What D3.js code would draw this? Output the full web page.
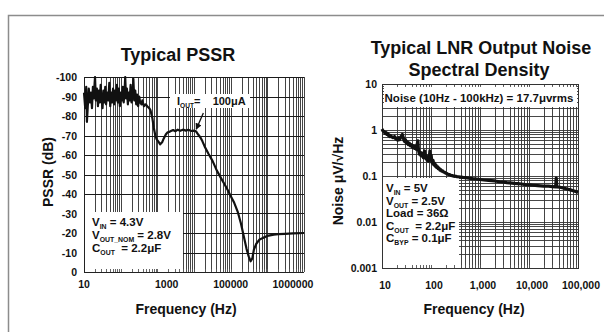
<!DOCTYPE html>
<html><head><meta charset="utf-8">
<script src="https://cdn.jsdelivr.net/npm/d3@7"></script>
<style>
html,body{margin:0;padding:0;background:#fff;}
svg{display:block;font-family:"Liberation Sans",Arial,sans-serif;font-weight:bold;}
</style></head><body>
<svg id="c" width="604" height="332"></svg>
<script>
// ---------- DATA ----------
const pssrFreq = [10,10.8,11.5,12,12.6,13.5,14.5,15.5,16.5,17.5,18.5,19.5,20,21,22.5,24,25.5,27,28.5,30,32,34,36,38,40,43,46,49,52,55,58,62,66,70,74,79,84,89,95,101,107,114,121,128,133,140,148,157,166,176,187,198,210,222,235,250,265,280,300,320,340,370,390,430,480,530,600,650,730,800,880,960,1060,1200,1350,1500,1700,1870,2200,2700,3100,3600,4200,5000,6000,7000,8500,10000,11500,13000,15000,17000,20000,25000,32000,42000,55000,68000,83000,100000,125000,155000,190000,230000,270000,310000,350000,390000,430000,500000,600000,760000,1000000,1500000,2000000,3000000,5000000,10000000];
const pssrDb = [-92,-84,-95,-77,-84,-94,-87,-92,-84,-95,-89,-97,-100,-88,-94,-85,-93,-87,-96,-89,-84,-93,-87,-95,-86,-92,-88,-97,-85,-92,-87,-94,-86,-93,-88,-96,-87,-94,-85,-92,-88,-95,-87,-93,-100,-89,-94,-86,-92,-88,-96,-87,-90,-99,-88,-93,-86,-91,-85,-90,-87,-86,-88,-85,-86,-85,-84,-83,-79,-74,-70,-68,-67,-65.5,-66.5,-68.5,-70.5,-71.5,-72,-72.8,-72.2,-73,-72.4,-73,-72.5,-73,-72.3,-72.5,-72,-70.5,-69,-67,-64,-60.5,-57,-52,-48,-45,-42,-39,-35.5,-31,-25,-18,-12,-8,-5.5,-7,-11.5,-14.5,-16.5,-17.5,-18.5,-19.2,-19.4,-19.6,-19.8,-20];

const noiseFreq = [10,10.5,11,11.5,12,12.5,13,13.5,14,14.5,15,16,17,18,19,20,21,22,23,24,25,26,27,28,29,30,31.5,33,34.5,36,38,40,42,44,46,48,50,52,54,55,56,58,60,62,64,66,68,70,72,74,76,78,80,83,86,89,92,95,98,101,104,107,110,114,118,122,126,130,135,140,146,152,158,165,172,180,190,200,212,225,240,255,270,290,300,340,400,450,500,600,700,850,1000,1200,1500,2000,2500,3000,3500,4000,5000,6000,7000,8500,10000,12000,15000,20000,25000,30000,35000,36000,37000,43000,50000,60000,70000,80000,90000,100000];
const noiseDensity = [1.05,0.95,0.92,0.85,0.88,0.8,0.84,0.76,0.78,0.72,0.75,0.7,0.68,0.72,0.64,0.66,0.6,0.68,0.62,0.7,0.74,0.8,0.7,0.6,0.56,0.62,0.52,0.55,0.48,0.52,0.45,0.48,0.42,0.45,0.4,0.43,0.38,0.48,0.58,0.42,0.35,0.3,0.33,0.28,0.32,0.27,0.3,0.25,0.3,0.35,0.26,0.24,0.28,0.22,0.25,0.21,0.24,0.35,0.22,0.28,0.2,0.19,0.22,0.175,0.19,0.165,0.175,0.155,0.16,0.145,0.148,0.135,0.138,0.128,0.13,0.122,0.12,0.115,0.113,0.108,0.107,0.103,0.102,0.099,0.1,0.097,0.095,0.093,0.092,0.09,0.088,0.086,0.084,0.082,0.08,0.078,0.075,0.074,0.072,0.071,0.069,0.068,0.067,0.065,0.064,0.063,0.062,0.06,0.06,0.059,0.058,0.09,0.058,0.057,0.055,0.052,0.05,0.048,0.046,0.044];

const pssrYTicks = [-100,-90,-80,-70,-60,-50,-40,-30,-20,-10,0];
const pssrXLabels = ["10","1000","100000","1000000"];
const pssrXLabelFreq = [10,1800,100000,5000000];
const noiseXTicks = [10,100,1000,10000,100000];
const noiseXLabels = ["10","100","1,000","10,000","100,000"];
const noiseYTicks = [10,1,0.1,0.01,0.001];
const noiseYLabels = ["10","1","0.1","0.01","0.001"];

// ---------- DRAW ----------
const NB = "\u00a0";
const svg = d3.select("#c");
svg.append("rect").attr("width",604).attr("height",332).attr("fill","#fff");
svg.append("rect").attr("x",8.5).attr("y",15.5).attr("width",700).attr("height",400)
  .attr("fill","none").attr("stroke","#8c8c8c").attr("stroke-width",1.5);

function richText(g, x, y, parts, size, anchor) {
  const t = g.append("text").attr("x",x).attr("y",y).attr("font-size",size).attr("fill","#111")
    .attr("text-anchor",anchor||"start");
  let sub=false;
  parts.forEach(p=>{
    const isSub = p.startsWith("_");
    const s = t.append("tspan").text(isSub?p.slice(1):p);
    if (isSub){ s.attr("font-size", size*0.6).attr("dy", 2.5); sub=true; }
    else if (sub){ s.attr("dy",-2.5); sub=false; }
  });
  return t;
}

// ===== Left chart: PSSR =====
const L = {x0:84, x1:304, y0:77, y1:272};
const xL = d3.scaleLog().domain([10,1e7]).range([L.x0,L.x1]);
const yL = d3.scaleLinear().domain([-100,0]).range([L.y0,L.y1]);
const gL = svg.append("g");

gL.selectAll("line.vg").data(xL.ticks()).join("line").attr("class","vg")
  .attr("x1",d=>Math.round(xL(d))+0.5).attr("x2",d=>Math.round(xL(d))+0.5)
  .attr("y1",L.y0).attr("y2",L.y1).attr("stroke","#444").attr("stroke-width",1);
gL.selectAll("line.hg").data(pssrYTicks).join("line").attr("class","hg")
  .attr("x1",L.x0).attr("x2",L.x1)
  .attr("y1",d=>Math.round(yL(d))+0.5).attr("y2",d=>Math.round(yL(d))+0.5)
  .attr("stroke","#1a1a1a").attr("stroke-width",1);

// legend box
gL.append("rect").attr("x",L.x0+1).attr("y",212).attr("width",98).attr("height",L.y1-212)
  .attr("fill","#fff");
// bottom ticks
gL.selectAll("line.bt").data(xL.ticks()).join("line").attr("class","bt")
  .attr("x1",d=>Math.round(xL(d))+0.5).attr("x2",d=>Math.round(xL(d))+0.5)
  .attr("y1",L.y1).attr("y2",L.y1-3).attr("stroke","#555").attr("stroke-width",0.9);
gL.append("line").attr("x1",L.x0+0.5).attr("x2",L.x0+0.5).attr("y1",L.y0).attr("y2",L.y1)
  .attr("stroke","#222");
gL.append("line").attr("x1",L.x0).attr("x2",L.x1).attr("y1",L.y1+0.5).attr("y2",L.y1+0.5)
  .attr("stroke","#222");

[[["V","_IN"," = 4.3V"],226],[["V","_OUT_NOM"," = 2.8V"],239],[["C","_OUT",NB+NB+"= 2.2μF"],252]]
  .forEach(([p,y])=>richText(gL,92,y,p,11.5));

// IOUT annotation
gL.append("rect").attr("x",170).attr("y",94).attr("width",80).attr("height",14).attr("fill","#fff");
richText(gL,177,105,["I","_OUT","="+NB+NB+NB+NB+"100μA"],11);
svg.append("defs").append("marker").attr("id","ah").attr("viewBox","0 0 10 10")
  .attr("refX",9).attr("refY",5).attr("markerWidth",5).attr("markerHeight",5).attr("orient","auto")
  .append("path").attr("d","M0,0L10,5L0,10z").attr("fill","#111");
gL.append("line").attr("x1",xL(18000)).attr("y1",yL(-81.5)).attr("x2",xL(11500)).attr("y2",yL(-73.2))
  .attr("stroke","#111").attr("stroke-width",1.3).attr("marker-end","url(#ah)");

// curve
const pssrData = pssrFreq.map((f,i)=>({f, v:pssrDb[i]}));
gL.append("path").datum(pssrData)
  .attr("d", d3.line().x(d=>xL(d.f)).y(d=>yL(d.v)))
  .attr("fill","none").attr("stroke","#111").attr("stroke-width",2.2).attr("stroke-linejoin","round");

// ticks labels
gL.selectAll("text.yl").data(pssrYTicks).join("text").attr("class","yl")
  .attr("x",L.x0-7).attr("y",d=>yL(d)+4).attr("text-anchor","end").attr("font-size",10.5)
  .attr("fill","#111").text(d=>d);
gL.selectAll("text.xl").data(pssrXLabels).join("text").attr("class","xl")
  .attr("x",(d,i)=>xL(pssrXLabelFreq[i])).attr("y",288).attr("text-anchor","middle")
  .attr("font-size",10.5).attr("fill","#111").text(d=>d);

svg.append("text").attr("x",178).attr("y",61).attr("text-anchor","middle").attr("font-size",18)
  .attr("fill","#111").text("Typical PSSR");
svg.append("text").attr("x",186).attr("y",314).attr("text-anchor","middle").attr("font-size",14)
  .attr("fill","#111").text("Frequency (Hz)");
svg.append("text").attr("transform","translate(53,172) rotate(-90)").attr("text-anchor","middle")
  .attr("font-size",14).attr("fill","#111").text("PSSR (dB)");

// ===== Right chart: Noise =====
const R = {x0:382, x1:578, y0:84, y1:268};
const xR = d3.scaleLog().domain([10,1e5]).range([R.x0,R.x1]);
const yR = d3.scaleLog().domain([0.001,10]).range([R.y1,R.y0]);
const gR = svg.append("g");

gR.selectAll("line.vg").data(xR.ticks()).join("line").attr("class","vg")
  .attr("x1",d=>Math.round(xR(d))+0.5).attr("x2",d=>Math.round(xR(d))+0.5)
  .attr("y1",R.y0).attr("y2",R.y1).attr("stroke","#444").attr("stroke-width",1);
gR.selectAll("line.hg").data(yR.ticks()).join("line").attr("class","hg")
  .attr("x1",R.x0).attr("x2",R.x1)
  .attr("y1",d=>Math.round(yR(d))+0.5).attr("y2",d=>Math.round(yR(d))+0.5)
  .attr("stroke","#333").attr("stroke-width",0.9);

// boxes
gR.append("rect").attr("x",R.x0+2).attr("y",R.y0+2).attr("width",R.x1-R.x0-3).attr("height",21).attr("fill","#fff");
gR.append("rect").attr("x",R.x0+1).attr("y",yR(0.1)+2).attr("width",76).attr("height",R.y1-yR(0.1)-2).attr("fill","#fff");
gR.selectAll("line.bt").data(xR.ticks()).join("line").attr("class","bt")
  .attr("x1",d=>Math.round(xR(d))+0.5).attr("x2",d=>Math.round(xR(d))+0.5)
  .attr("y1",R.y1).attr("y2",R.y1-3).attr("stroke","#555").attr("stroke-width",0.9);
gR.selectAll("line.tt").data(xR.ticks()).join("line").attr("class","tt")
  .attr("x1",d=>Math.round(xR(d))+0.5).attr("x2",d=>Math.round(xR(d))+0.5)
  .attr("y1",R.y0).attr("y2",R.y0+3).attr("stroke","#555").attr("stroke-width",0.9);
gR.append("rect").attr("x",R.x0+0.5).attr("y",R.y0+0.5).attr("width",R.x1-R.x0).attr("height",R.y1-R.y0)
  .attr("fill","none").attr("stroke","#333").attr("stroke-width",1);

gR.append("text").attr("x",(R.x0+R.x1)/2-1).attr("y",102).attr("text-anchor","middle")
  .attr("font-size",11.5).attr("fill","#111").text("Noise (10Hz - 100kHz) = 17.7μvrms");
[[["V","_IN"," = 5V"],192],[["V","_OUT"," = 2.5V"],205],[["Load = 36Ω"],217],
 [["C","_OUT",NB+NB+"= 2.2μF"],230],[["C","_BYP"," = 0.1μF"],242]]
  .forEach(([p,y])=>richText(gR,386,y,p,11.5));

const noiseData = noiseFreq.map((f,i)=>({f, v:noiseDensity[i]}));
gR.append("path").datum(noiseData)
  .attr("d", d3.line().x(d=>xR(d.f)).y(d=>yR(d.v)))
  .attr("fill","none").attr("stroke","#111").attr("stroke-width",3.2).attr("stroke-linejoin","round");

gR.selectAll("text.yl").data(noiseYTicks).join("text").attr("class","yl")
  .attr("x",R.x0-5).attr("y",d=>yR(d)+4).attr("text-anchor","end").attr("font-size",10.5)
  .attr("fill","#111").text((d,i)=>noiseYLabels[i]);
gR.selectAll("text.xl").data(noiseXTicks).join("text").attr("class","xl")
  .attr("x",d=>xR(d)+3).attr("y",289).attr("text-anchor","middle")
  .attr("font-size",10.5).attr("fill","#111").text((d,i)=>noiseXLabels[i]);

svg.append("text").attr("x",481).attr("y",54).attr("text-anchor","middle").attr("font-size",18)
  .attr("fill","#111").text("Typical LNR Output Noise");
svg.append("text").attr("x",479).attr("y",76).attr("text-anchor","middle").attr("font-size",18)
  .attr("fill","#111").text("Spectral Density");
svg.append("text").attr("x",474).attr("y",314).attr("text-anchor","middle").attr("font-size",14)
  .attr("fill","#111").text("Frequency (Hz)");
svg.append("text").attr("transform","translate(343,181) rotate(-90)").attr("text-anchor","middle")
  .attr("font-size",14).attr("fill","#111").text("Noise μV/√Hz");
</script>
</body></html>
